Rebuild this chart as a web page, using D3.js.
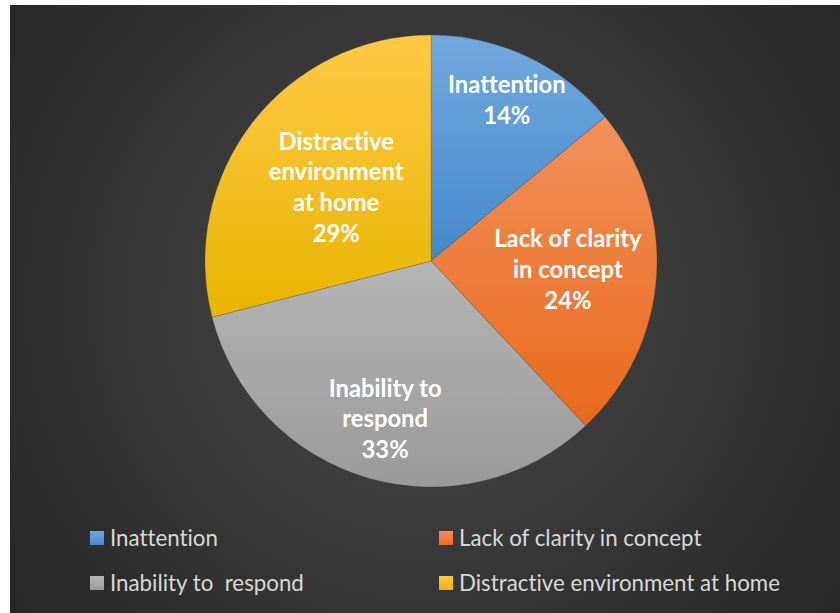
<!DOCTYPE html>
<html>
<head>
<meta charset="utf-8">
<script src="https://cdn.jsdelivr.net/npm/d3@7/dist/d3.min.js"></script>
<style>
  html, body { margin: 0; padding: 0; background: #ffffff; }
  svg { display: block; }
  text { font-variant-ligatures: none; font-feature-settings: "liga" 0, "dlig" 0; }
</style>
</head>
<body>
<svg id="chart" width="840" height="613"></svg>
<script>
// Reasons for difficulty in online learning (share of responses)
const categories = ["Inattention", "Lack of clarity in concept", "Inability to  respond", "Distractive environment at home"];
const values = [14, 24, 33, 29];
const sliceLabels = [["Inattention"], ["Lack of clarity", "in concept"], ["Inability to", "respond"], ["Distractive", "environment", "at home"]];
const colorsTop = ["#72a9de", "#f2915a", "#b5b5b5", "#ffc947"];
const colorsBottom = ["#4488cb", "#e9691c", "#9a9a9a", "#e8b500"];

const W = 840, H = 613;
const cx = 431, cy = 261, R = 226;
// Radial position of each data label, as a fraction of the radius
const labelRadiusFrac = [0.788, 0.607, 0.728, 0.531];

const svg = d3.select("#chart");
const defs = svg.append("defs");

// Dark chart-area background with a soft radial highlight
const bg = defs.append("radialGradient").attr("id", "bgGrad")
  .attr("gradientUnits", "userSpaceOnUse")
  .attr("cx", 425).attr("cy", 300).attr("r", 560);
bg.append("stop").attr("offset", "0%").attr("stop-color", "#4a4a4a");
bg.append("stop").attr("offset", "100%").attr("stop-color", "#232323");

svg.append("rect").attr("x", 10).attr("y", 5).attr("width", W - 10).attr("height", H - 5)
  .attr("fill", "url(#bgGrad)");

// Vertical gradient for every slice
categories.forEach((c, i) => {
  const g = defs.append("linearGradient").attr("id", "slice" + i)
    .attr("x1", 0).attr("y1", 0).attr("x2", 0).attr("y2", 1);
  g.append("stop").attr("offset", "0%").attr("stop-color", colorsTop[i]);
  g.append("stop").attr("offset", "100%").attr("stop-color", colorsBottom[i]);
});

const data = categories.map((c, i) => ({ name: c, value: values[i], lines: sliceLabels[i], i }));

const pie = d3.pie().value(d => d.value).sort(null);
const arcs = pie(data);
const arc = d3.arc().innerRadius(0).outerRadius(R);

const g = svg.append("g").attr("transform", `translate(${cx},${cy})`);

g.selectAll("path.slice").data(arcs).join("path")
  .attr("class", "slice")
  .attr("d", arc)
  .attr("fill", d => `url(#slice${d.data.i})`)
  .attr("stroke", "rgba(60,60,60,0.35)")
  .attr("stroke-width", 0.6);

// Data labels: category name lines plus percentage
const fmt = v => Math.round(v) + "%";
const total = d3.sum(values);
const lineH = 30.8;
const labelFont = 23.8;

arcs.forEach(d => {
  const r = R * labelRadiusFrac[d.data.i];
  const la = d3.arc().innerRadius(r).outerRadius(r);
  const [lx, ly] = la.centroid(d);
  const lines = d.data.lines.concat([fmt(d.data.value / total * 100)]);
  const n = lines.length;
  const t = g.append("text")
    .attr("text-anchor", "middle")
    .attr("font-family", "Lato, 'Open Sans', sans-serif")
    .attr("font-weight", "bold")
    .attr("font-size", labelFont)
    .attr("fill", "#ffffff");
  lines.forEach((s, k) => {
    t.append("tspan")
      .attr("x", lx)
      .attr("y", ly + (k - (n - 1) / 2) * lineH + labelFont * 0.35)
      .text(s);
  });
});

// Legend: two columns, two rows
const legendX = [90, 439];
const legendY = [538, 583];
const lg = svg.append("g");
data.forEach((d, i) => {
  const x = legendX[i % 2], y = legendY[Math.floor(i / 2)];
  lg.append("rect").attr("x", x).attr("y", y - 7).attr("width", 14).attr("height", 14)
    .attr("fill", `url(#slice${i})`);
  lg.append("text").attr("x", x + 20).attr("y", y + 7.5)
    .attr("font-family", "Lato, 'Open Sans', sans-serif")
    .attr("font-size", 22.3)
    .attr("fill", "#d9d9d9")
    .attr("xml:space", "preserve")
    .style("white-space", "pre")
    .text(d.name);
});
</script>
</body>
</html>
